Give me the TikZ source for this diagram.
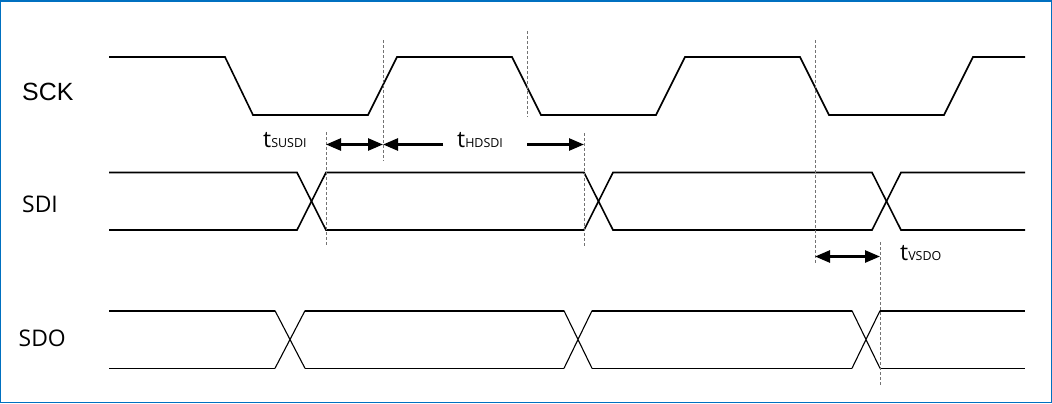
\documentclass[tikz,border=0pt]{standalone}
\usepackage{fontspec}
\newfontfamily\sigfont{Open Sans}
\newfontfamily\clkfont{Liberation Sans}
\usetikzlibrary{arrows.meta}
\newcommand{\tname}[1]{t{\fontsize{12.5}{12.5}\selectfont #1}}
\tikzset{
  {wave/.style} ={draw,line width=1.6bp,black,line join=miter},
  {thin wave/.style} ={wave,line width=1.1bp},
  {guide/.style} ={draw,line width=0.7bp,black!55,dash pattern=on 3bp off 2bp},
  {timing/.style} ={draw,line width=2.6bp,black},
  {sig label/.style} ={font=\sigfont\fontsize{23}{23}\selectfont,anchor=west,inner sep=0},
  {time label/.style} ={font=\sigfont\fontsize{23}{23}\selectfont,anchor=base west,inner sep=0},
  >={Triangle[length=15bp,width=12bp]},
 }
\begin{document}
\begin{tikzpicture}[x=1bp,y=-1bp]
\useasboundingbox (0,0) rectangle (1052,403);
\draw[line width=1.5bp,color={rgb,255:red,0;green,112;blue,192}] (0.75,0.75) rectangle (1051.25,402.25);
\node[sig label,font=\clkfont\fontsize{25}{25}\selectfont] (sck) at (22,92) {SCK};
\node[sig label] (sdi) at (22,204) {SDI};
\node[sig label] (sdo) at (18.5,338) {SDO};
\draw[wave] (109,57) -- (225,57) -- (253,115) -- (368,115) -- (397,57) -- (512,57)
      -- (541,115) -- (656,115) -- (685,57) -- (800,57) -- (829,115) -- (944,115)
      -- (973,57) -- (1025,57);
\draw[wave] (109,172.5) -- (297,172.5) -- (326,230) -- (584,230) -- (613,172.5)
      -- (872,172.5) -- (901,230) -- (1025,230);
\draw[wave] (109,230) -- (297,230) -- (326,172.5) -- (584,172.5) -- (613,230)
      -- (872,230) -- (901,172.5) -- (1025,172.5);
\draw[wave] (109,310.7) -- (275,310.7) (305,310.7) -- (564,310.7) (592,310.7)
      -- (852,310.7) (880,310.7) -- (1025,310.7);
\draw[wave] (109,368.3) -- (275,368.3) (305,368.3) -- (564,368.3) (592,368.3)
      -- (852,368.3) (880,368.3) -- (1025,368.3);
\draw[thin wave] (275,310.7) -- (305,368.3) (275,368.3) -- (305,310.7)
      (564,310.7) -- (592,368.3) (564,368.3) -- (592,310.7)
      (852,310.7) -- (880,368.3) (852,368.3) -- (880,310.7);
\coordinate (g1t) at (326,132); \coordinate (g1b) at (326,246);
\coordinate (g2t) at (383,40);  \coordinate (g2b) at (383,161);
\coordinate (g3t) at (527,31);  \coordinate (g3b) at (527,117);
\coordinate (g4t) at (584,133); \coordinate (g4b) at (584,246);
\coordinate (g5t) at (815,40);  \coordinate (g5b) at (815,263);
\coordinate (g6t) at (880,242); \coordinate (g6b) at (880,386);
\path[guide] (g1t) -- (g1b) (g2t) -- (g2b) (g3t) -- (g3b)
      (g4t) -- (g4b) (g5t) -- (g5b) (g6t) -- (g6b);
\coordinate (su) at (326,144.5);
\coordinate (hd) at (383,144.5);
\coordinate (hdl) at (443,144.5);
\coordinate (hdr) at (527,144.5);
\coordinate (hde) at (584,144.5);
\coordinate (vs) at (815,256.5);
\coordinate (vse) at (880,256.5);
\path[timing] (su) edge[<->] (hd)
      (hdl) edge[->] (hd)
      (hdr) edge[->] (hde)
      (vs) edge[<->] (vse);
\node[time label] (tsu) at (263,147.5) {\tname{SUSDI}};
\node[time label] (thd) at (457,147.5) {\tname{HDSDI}};
\node[time label] (tvs) at (900,260) {\tname{VSDO}};
\end{tikzpicture}
\end{document}
